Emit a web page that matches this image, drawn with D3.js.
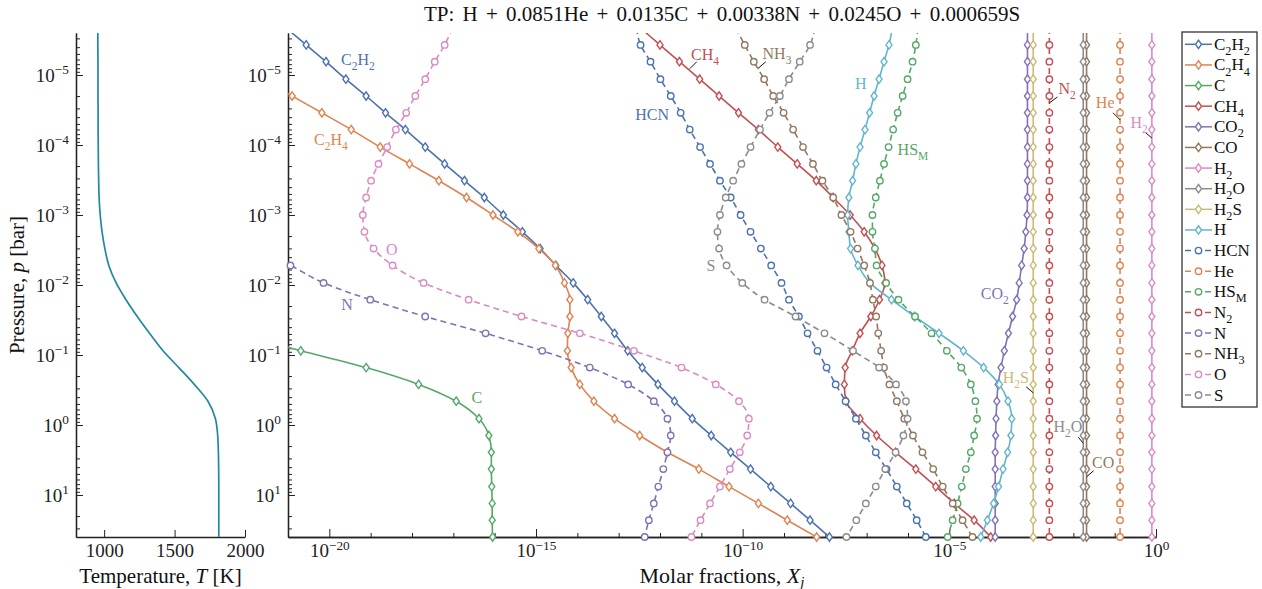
<!DOCTYPE html>
<html>
<head>
<meta charset="utf-8">
<script src="https://cdn.jsdelivr.net/npm/d3@7"></script>
<style>
  body { margin: 0; background: #fff; }
  svg { font-family: "Liberation Serif", serif; }
</style>
</head>
<body>
<svg id="chart" width="1262" height="589"></svg>
<script>
const font = '"Liberation Serif", serif';

// pressure levels, log10(p / bar), top of the atmosphere first
const logP = [-5.67,-5.43,-5.19,-4.94,-4.70,-4.46,-4.22,-3.97,-3.73,-3.49,-3.25,-3.00,-2.76,-2.52,-2.28,-2.03,
  -1.79,-1.55,-1.31,-1.06,-0.82,-0.58,-0.34,-0.09,0.15,0.39,0.63,0.88,1.12,1.36,1.60];

// temperature profile [K] on the same levels
const temperature = [955,955,956,956,956,957,957,958,959,961,964,972,985,1005,1033,1085,
  1155,1235,1322,1418,1530,1640,1737,1790,1806,1811,1813,1814,1814,1814,1814];

const species = ["C2H2","C2H4","C","CH4","CO2","CO","H2","H2O","H2S","H",
  "HCN","He","HS_M","N2","N","NH3","O","S"];
const palette = ["#4c72b0","#dd8452","#55a868","#c44e52","#8172b3","#937860","#da8bc3","#8c8c8c","#ccb974","#64b5cd"];

// log10 molar fractions on the pressure levels (null = not drawn)
const xC2H2 = [-21.04,-20.56,-20.08,-19.60,-19.11,-18.64,-18.16,-17.68,-17.21,-16.73,-16.25,-15.79,-15.33,-14.90,-14.52,-14.10,
  -13.75,-13.42,-13.10,-12.78,-12.43,-12.05,-11.65,-11.22,-10.76,-10.29,-9.81,-9.32,-8.84,-8.37,-7.90];
const xC2H4 = [-23.7,-23.0,-22.3,-21.6,-20.90,-20.18,-19.47,-18.77,-18.06,-17.35,-16.68,-16.04,-15.44,-14.93,-14.53,-14.31,
  -14.18,-14.18,-14.23,-14.24,-14.15,-13.94,-13.60,-13.10,-12.49,-11.82,-11.06,-10.33,-9.62,-8.92,-8.21];
const xC = [null,null,null,null,null,null,null,null,null,null,null,null,null,null,null,null,
  null,null,-22.3,-20.69,-19.11,-17.84,-16.93,-16.38,-16.14,-16.08,-16.08,-16.07,-16.06,-16.06,-16.05];
const xCH4 = [-12.47,-12.00,-11.53,-11.04,-10.57,-10.10,-9.62,-9.15,-8.68,-8.22,-7.81,-7.40,-7.06,-6.80,-6.63,-6.56,
  -6.69,-6.90,-7.16,-7.35,-7.52,-7.54,-7.50,-7.16,-6.76,-6.30,-5.81,-5.33,-4.88,-4.40,-4.00];
const xCO2 = [-3.11,-3.11,-3.11,-3.11,-3.11,-3.11,-3.11,-3.11,-3.11,-3.11,-3.11,-3.12,-3.15,-3.19,-3.25,-3.31,
  -3.37,-3.47,-3.57,-3.67,-3.75,-3.82,-3.85,-3.87,-3.88,-3.89,-3.89,-3.89,-3.89,-3.89,-3.89];
const xCO = [-1.68,-1.68,-1.68,-1.68,-1.68,-1.68,-1.68,-1.68,-1.68,-1.68,-1.68,-1.68,-1.68,-1.68,-1.68,-1.68,
  -1.68,-1.68,-1.68,-1.68,-1.68,-1.68,-1.68,-1.68,-1.68,-1.68,-1.68,-1.68,-1.68,-1.68,-1.68];
const xH2 = [-0.10,-0.10,-0.10,-0.10,-0.10,-0.10,-0.10,-0.10,-0.10,-0.10,-0.10,-0.10,-0.10,-0.10,-0.10,-0.10,
  -0.10,-0.10,-0.10,-0.10,-0.10,-0.10,-0.10,-0.10,-0.10,-0.10,-0.10,-0.10,-0.10,-0.10,-0.10];
const xH2O = [-1.76,-1.76,-1.76,-1.76,-1.76,-1.76,-1.76,-1.76,-1.76,-1.76,-1.76,-1.76,-1.76,-1.76,-1.76,-1.76,
  -1.76,-1.76,-1.76,-1.76,-1.76,-1.76,-1.76,-1.76,-1.76,-1.76,-1.76,-1.76,-1.76,-1.76,-1.76];
const xH2S = [-2.97,-2.97,-2.97,-2.97,-2.97,-2.97,-2.97,-2.97,-2.97,-2.97,-2.97,-2.97,-2.97,-2.97,-2.97,-2.97,
  -2.97,-2.97,-2.97,-2.97,-2.97,-2.97,-2.97,-2.97,-2.97,-2.97,-2.97,-2.97,-2.97,-2.97,-2.97];
const xH = [-6.38,-6.46,-6.58,-6.70,-6.82,-6.93,-7.04,-7.16,-7.26,-7.34,-7.43,-7.46,-7.43,-7.39,-7.21,-6.92,
  -6.40,-5.84,-5.25,-4.66,-4.17,-3.79,-3.58,-3.49,-3.51,-3.59,-3.70,-3.81,-3.93,-4.08,-4.24];
const xHCN = [-12.57,-12.47,-12.23,-11.99,-11.74,-11.50,-11.28,-11.03,-10.79,-10.55,-10.29,-10.05,-9.81,-9.56,-9.31,-9.06,
  -8.88,-8.64,-8.43,-8.19,-7.97,-7.75,-7.51,-7.26,-7.02,-6.78,-6.52,-6.27,-6.03,-5.79,-5.57];
const xHe = [-0.87,-0.87,-0.87,-0.87,-0.87,-0.87,-0.87,-0.87,-0.87,-0.87,-0.87,-0.87,-0.87,-0.87,-0.87,-0.87,
  -0.87,-0.87,-0.87,-0.87,-0.87,-0.87,-0.87,-0.87,-0.87,-0.87,-0.87,-0.87,-0.87,-0.87,-0.87];
const xHSM = [-5.76,-5.81,-5.89,-6.01,-6.13,-6.25,-6.36,-6.47,-6.58,-6.68,-6.78,-6.86,-6.86,-6.80,-6.76,-6.53,
  -6.23,-5.83,-5.43,-5.06,-4.71,-4.48,-4.37,-4.33,-4.40,-4.48,-4.60,-4.70,-4.80,-4.92,-5.04];
const xN2 = [-2.58,-2.58,-2.58,-2.58,-2.58,-2.58,-2.58,-2.58,-2.58,-2.58,-2.58,-2.58,-2.58,-2.58,-2.58,-2.58,
  -2.58,-2.58,-2.58,-2.58,-2.58,-2.58,-2.58,-2.58,-2.58,-2.58,-2.58,-2.58,-2.58,-2.58,-2.58];
const xN = [null,null,null,null,null,null,null,null,null,null,null,null,null,-21.8,-20.94,-20.14,
  -19.01,-17.68,-16.22,-14.85,-13.70,-12.77,-12.15,-11.82,-11.74,-11.82,-11.92,-12.04,-12.15,-12.27,-12.37];
const xNH3 = [-10.17,-9.95,-9.73,-9.48,-9.26,-9.01,-8.78,-8.54,-8.30,-8.07,-7.81,-7.61,-7.39,-7.22,-7.06,-6.92,
  -6.85,-6.77,-6.72,-6.65,-6.58,-6.45,-6.27,-6.09,-5.88,-5.65,-5.39,-5.16,-4.92,-4.68,-4.44];
const xO = [-17.02,-17.21,-17.45,-17.68,-17.92,-18.14,-18.39,-18.60,-18.81,-18.99,-19.11,-19.19,-19.15,-18.93,-18.47,-17.72,
  -16.63,-15.35,-13.94,-12.63,-11.48,-10.65,-10.09,-9.85,-9.89,-10.07,-10.31,-10.55,-10.79,-11.02,-11.24];
const xS = [-8.25,-8.37,-8.62,-8.88,-9.10,-9.35,-9.58,-9.81,-10.03,-10.23,-10.41,-10.55,-10.61,-10.57,-10.39,-10.01,
  -9.47,-8.72,-8.02,-7.33,-6.70,-6.29,-6.05,-6.01,-6.11,-6.30,-6.55,-6.78,-7.02,-7.25,-7.49];

const fractions = [xC2H2, xC2H4, xC, xCH4, xCO2, xCO, xH2, xH2O, xH2S, xH,
  xHCN, xHe, xHSM, xN2, xN, xNH3, xO, xS];

// ticks
const pressureTickExp = [-5,-4,-3,-2,-1,0,1];
const fractionTickExp = [-20,-15,-10,-5,0];
const temperatureTicks = [1000,1500,2000];

// in-plot labels: name, log10 X, log10 p of the label centre
const labels = [
  ["C2H2",-19.31,-5.21],["C2H4",-19.96,-4.07],["O",-18.49,-2.50],["N",-19.57,-1.71],["C",-16.43,-0.39],
  ["HCN",-12.19,-4.43],["CH4",-10.91,-5.29],["NH3",-9.17,-5.30],["S",-10.77,-2.27],["H",-7.14,-4.87],
  ["HS_M",-5.88,-3.93],["CO2",-3.90,-1.87],["H2S",-3.39,-0.67],["N2",-2.15,-4.80],["He",-1.23,-4.60],
  ["H2",-0.41,-4.31],["H2O",-2.13,0.03],["CO",-1.28,0.54]
];
// short leader lines: log10 X, log10 p of the curve end, then pixel offset toward the label
const leaders = [
  [-11.11,-5.19,-7,7],[-9.44,-5.19,-8,7],[-2.58,-4.60,8,-6],[-0.87,-4.36,-7,-7],
  [-0.10,-4.10,-7,-6],[-2.97,-0.46,-7,-6],[-1.76,0.26,-5,-6],[-1.68,0.74,7,-6]
];

const svg = d3.select("#chart");
const plotTop = 33, plotBottom = 537;

const yScale = d3.scaleLog().domain([10 ** -5.6, 10 ** 1.6]).range([plotTop, plotBottom]);
const tScale = d3.scaleLinear().domain([800, 2000]).range([76, 245]);
const xScale = d3.scaleLog().domain([1e-21, 1]).range([288, 1156]);

const defs = svg.append("defs");
defs.append("clipPath").attr("id", "clipT").append("rect")
  .attr("x", 76).attr("y", plotTop).attr("width", 169).attr("height", plotBottom - plotTop);
defs.append("clipPath").attr("id", "clipX").append("rect")
  .attr("x", 288).attr("y", plotTop).attr("width", 868).attr("height", plotBottom - plotTop);

// chemical names with subscripts
function chemParts(name) {
  if (name.includes("_")) {
    const [a, b] = name.split("_");
    return [[a, false], [b, true]];
  }
  return name.match(/\d+|\D+/g).map(s => [s, /\d/.test(s)]);
}
function writeChem(text, name, size) {
  let shift = 0;
  chemParts(name).forEach(([s, sub]) => {
    const target = sub ? size * 0.3 : 0;
    text.append("tspan").attr("dy", target - shift)
      .attr("font-size", sub ? size * 0.72 : size).text(s);
    shift = target;
  });
}
function powLabel(text, v, size) {
  const e = Math.round(Math.log10(v));
  text.text(null);
  text.append("tspan").text("10");
  text.append("tspan").attr("dy", -size * 0.42).attr("font-size", size * 0.7)
    .text(e < 0 ? "\u2212" + (-e) : String(e));
}

// ---- axes
const yMajor = pressureTickExp.map(e => 10 ** e);
const yMinor = yScale.ticks().filter(v => Math.abs(Math.log10(v) - Math.round(Math.log10(v))) > 1e-6);
const xMajor = fractionTickExp.map(e => 10 ** e);
const xMinor = d3.range(-21, 1).filter(e => !fractionTickExp.includes(e)).map(e => 10 ** e);

function styleAxis(g) {
  g.attr("font-family", font).attr("font-size", 19).attr("color", "#222");
  g.select(".domain").attr("stroke-width", 1.3);
}

[76, 288].forEach(x0 => {
  svg.append("g").attr("transform", `translate(${x0},0)`)
    .call(d3.axisLeft(yScale).tickValues(yMinor).tickSize(-4).tickSizeOuter(0).tickFormat(""))
    .call(styleAxis);
  const g = svg.append("g").attr("transform", `translate(${x0},0)`)
    .call(d3.axisLeft(yScale).tickValues(yMajor).tickSize(-7).tickSizeOuter(0).tickPadding(7))
    .call(styleAxis);
  g.selectAll(".tick text").each(function(d) { powLabel(d3.select(this), d, 19); });
});

svg.append("g").attr("transform", `translate(0,${plotBottom})`)
  .call(d3.axisBottom(tScale).tickValues(temperatureTicks).tickFormat(d3.format("d"))
    .tickSize(-7).tickSizeOuter(0).tickPadding(7))
  .call(styleAxis);

svg.append("g").attr("transform", `translate(0,${plotBottom})`)
  .call(d3.axisBottom(xScale).tickValues(xMinor).tickSize(-4).tickSizeOuter(0).tickFormat(""))
  .call(styleAxis);
const gx = svg.append("g").attr("transform", `translate(0,${plotBottom})`)
  .call(d3.axisBottom(xScale).tickValues(xMajor).tickSize(-8).tickSizeOuter(0).tickPadding(7))
  .call(styleAxis);
gx.selectAll(".tick text").each(function(d) { powLabel(d3.select(this), d, 19); });

// ---- temperature panel
const tLine = d3.line()
  .x(d => tScale(d[1]))
  .y(d => yScale(10 ** d[0]))
  .curve(d3.curveMonotoneY);
svg.append("path").datum(d3.zip(logP, temperature))
  .attr("clip-path", "url(#clipT)")
  .attr("fill", "none").attr("stroke", "#23889d").attr("stroke-width", 1.7)
  .attr("d", tLine);

// ---- molar fraction panel
const xLine = d3.line()
  .defined(d => d.x != null)
  .x(d => xScale(10 ** d.x))
  .y(d => yScale(10 ** d.p))
  .curve(d3.curveMonotoneY);

const diamond = "M0,-4.2L3,0L0,4.2L-3,0Z";
function drawMarker(g, solid, color) {
  if (solid) {
    g.append("path").attr("d", diamond);
  } else {
    g.append("circle").attr("r", 3.2);
  }
  g.attr("fill", "#fff").attr("stroke", color).attr("stroke-width", 1.4);
}

species.forEach((name, i) => {
  const color = palette[i % 10];
  const solid = i < 10;
  const pts = logP.map((p, k) => ({ p: p, x: fractions[i][k] }));
  const g = svg.append("g");
  g.append("path").datum(pts)
    .attr("clip-path", "url(#clipX)")
    .attr("fill", "none").attr("stroke", color).attr("stroke-width", 1.6)
    .attr("stroke-dasharray", solid ? null : "6,4")
    .attr("d", xLine);
  const inside = pts.filter(d => d.x != null && d.x >= -21.01 && d.x <= 0.01 && d.p >= -5.6 && d.p <= 1.61);
  g.selectAll("g.mk").data(inside).join("g")
    .attr("class", "mk")
    .attr("transform", d => `translate(${xScale(10 ** d.x)},${yScale(10 ** d.p)})`)
    .each(function() { drawMarker(d3.select(this), solid, color); });
});

// leaders and labels
leaders.forEach(([lx, lp, dx, dy]) => {
  const x = xScale(10 ** lx), y = yScale(10 ** lp);
  svg.append("line").attr("x1", x).attr("y1", y).attr("x2", x + dx).attr("y2", y + dy)
    .attr("stroke", "#111").attr("stroke-width", 1);
});
labels.forEach(([name, lx, lp]) => {
  const color = palette[species.indexOf(name) % 10];
  const t = svg.append("text")
    .attr("x", xScale(10 ** lx)).attr("y", yScale(10 ** lp) + 5)
    .attr("text-anchor", "middle").attr("fill", color).attr("font-size", 16);
  writeChem(t, name, 16);
});

// ---- legend
const legend = svg.append("g").attr("transform", "translate(1182,32)");
legend.append("rect").attr("width", 75).attr("height", 375)
  .attr("fill", "#fff").attr("stroke", "#222").attr("stroke-width", 1.2);
species.forEach((name, i) => {
  const color = palette[i % 10];
  const solid = i < 10;
  const y = 12.3 + i * 20.63;
  const row = legend.append("g").attr("transform", `translate(0,${y})`);
  row.append("line").attr("x1", 3).attr("x2", 30)
    .attr("stroke", color).attr("stroke-width", 1.5)
    .attr("stroke-dasharray", solid ? null : "6,4");
  drawMarker(row.append("g").attr("transform", "translate(16.5,0)"), solid, color);
  const t = row.append("text").attr("x", 32).attr("y", 5.5).attr("font-size", 17).attr("fill", "#111");
  writeChem(t, name, 17);
});

// ---- titles
svg.append("text").attr("x", 722).attr("y", 21).attr("text-anchor", "middle")
  .attr("font-size", 21).attr("word-spacing", 3).attr("fill", "#111")
  .text("TP: H + 0.0851He + 0.0135C + 0.00338N + 0.0245O + 0.000659S");

const yl = svg.append("text").attr("transform", "translate(24,285) rotate(-90)")
  .attr("text-anchor", "middle").attr("font-size", 21).attr("fill", "#111");
yl.append("tspan").text("Pressure, ");
yl.append("tspan").attr("font-style", "italic").text("p");
yl.append("tspan").text(" [bar]");

const tl = svg.append("text").attr("x", 160.5).attr("y", 583)
  .attr("text-anchor", "middle").attr("font-size", 21).attr("fill", "#111");
tl.append("tspan").text("Temperature, ");
tl.append("tspan").attr("font-style", "italic").text("T");
tl.append("tspan").text(" [K]");

const xl = svg.append("text").attr("x", 722).attr("y", 583)
  .attr("text-anchor", "middle").attr("font-size", 22).attr("fill", "#111");
xl.append("tspan").text("Molar fractions, ");
xl.append("tspan").attr("font-style", "italic").text("X");
xl.append("tspan").attr("font-style", "italic").attr("font-size", 15).attr("dy", 4).text("j");
</script>
</body>
</html>
